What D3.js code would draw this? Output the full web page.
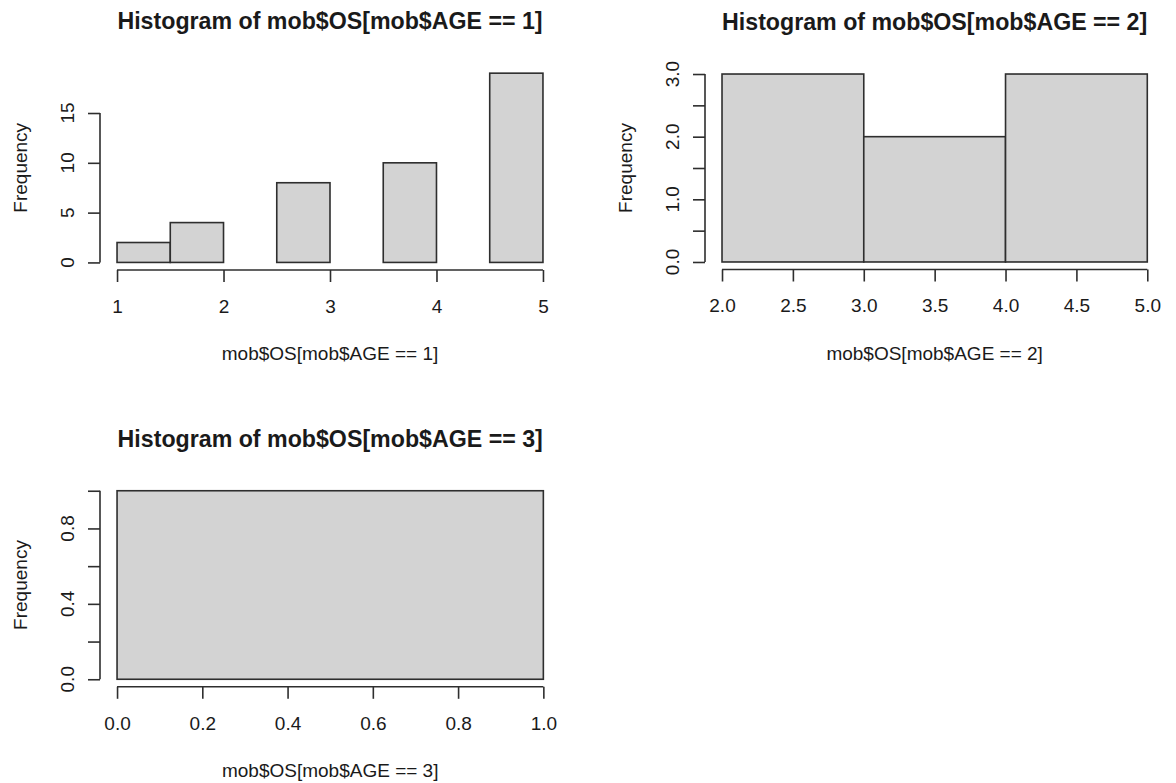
<!DOCTYPE html>
<html>
<head>
<meta charset="utf-8">
<script src="https://cdn.jsdelivr.net/npm/d3@7"></script>
<style>
  html, body { margin: 0; padding: 0; background: #fff; }
  svg { display: block; }
  text { font-family: "Liberation Sans", Arial, sans-serif; fill: #1a1a1a; }
</style>
</head>
<body>
<svg id="chart" width="1176" height="783"></svg>
<script>
// Histogram breaks and counts for each age group
const age1Breaks = [1, 1.5, 2, 2.5, 3, 3.5, 4, 4.5, 5];
const age1Counts = [2, 4, 0, 8, 0, 10, 0, 19];
const age2Breaks = [2, 3, 4, 5];
const age2Counts = [3, 2, 3];
const age3Breaks = [0, 1];
const age3Counts = [1];

// Axis ticks and which of them carry labels
const age1XTicks = [1, 2, 3, 4, 5];
const age1YTicks = [0, 5, 10, 15];
const age1YLabels = ["0", "5", "10", "15"];
const age2XTicks = [2, 2.5, 3, 3.5, 4, 4.5, 5];
const age2YTicks = [0, 0.5, 1, 1.5, 2, 2.5, 3];
const age2YLabels = ["0.0", "", "1.0", "", "2.0", "", "3.0"];
const age3XTicks = [0, 0.2, 0.4, 0.6, 0.8, 1];
const age3YTicks = [0, 0.2, 0.4, 0.6, 0.8, 1];
const age3YLabels = ["0.0", "", "0.4", "", "0.8", ""];

const titles = [
  "Histogram of mob$OS[mob$AGE == 1]",
  "Histogram of mob$OS[mob$AGE == 2]",
  "Histogram of mob$OS[mob$AGE == 3]"
];
const xLabels = ["mob$OS[mob$AGE == 1]", "mob$OS[mob$AGE == 2]", "mob$OS[mob$AGE == 3]"];
const yLabel = "Frequency";

const svg = d3.select("#chart");
const LINE = "#2e2e2e";
const FILL = "#d3d3d3";

// Plot regions (pixel boxes) for the three panels
const panels = [
  { box: { l: 100, r: 560, t: 65.6, b: 270 }, breaks: age1Breaks, counts: age1Counts,
    xTicks: age1XTicks, xFmt: d3.format("d"), yTicks: age1YTicks, yLabels: age1YLabels },
  { box: { l: 705, r: 1164.3, t: 66.5, b: 269.5 }, breaks: age2Breaks, counts: age2Counts,
    xTicks: age2XTicks, xFmt: d3.format(".1f"), yTicks: age2YTicks, yLabels: age2YLabels },
  { box: { l: 100, r: 560.4, t: 483.2, b: 686.8 }, breaks: age3Breaks, counts: age3Counts,
    xTicks: age3XTicks, xFmt: d3.format(".1f"), yTicks: age3YTicks, yLabels: age3YLabels }
];

// Extend a range by 4% on each side, as base R plotting does
function padded(lo, hi) {
  const d = (hi - lo) * 0.04;
  return [lo - d, hi + d];
}

panels.forEach((p, i) => {
  const { l, r, t, b } = p.box;
  const xMin = p.breaks[0], xMax = p.breaks[p.breaks.length - 1];
  const x = d3.scaleLinear().domain(padded(xMin, xMax)).range([l, r]);
  const y = d3.scaleLinear().domain(padded(0, d3.max(p.counts))).range([b, t]);
  const g = svg.append("g");

  // bars (zero-count bins collapse to a line on the baseline)
  const bins = p.counts.map((c, k) => ({ x0: p.breaks[k], x1: p.breaks[k + 1], n: c }));
  g.selectAll("rect.bar").data(bins).join("rect")
    .attr("class", "bar")
    .attr("x", d => x(d.x0))
    .attr("width", d => x(d.x1) - x(d.x0))
    .attr("y", d => y(d.n))
    .attr("height", d => y(0) - y(d.n))
    .attr("fill", FILL)
    .attr("stroke", LINE)
    .attr("stroke-width", 1.6);

  // x axis
  const xa = g.append("g").attr("transform", `translate(0,${b})`)
    .call(d3.axisBottom(x).tickValues(p.xTicks).tickFormat(p.xFmt)
      .tickSize(12).tickSizeOuter(0).tickPadding(17.5));
  xa.select(".domain").remove();
  xa.append("line")
    .attr("x1", x(p.xTicks[0])).attr("x2", x(p.xTicks[p.xTicks.length - 1]))
    .attr("stroke", LINE).attr("stroke-width", 1.6);
  xa.selectAll(".tick line").attr("stroke", LINE).attr("stroke-width", 1.6);
  xa.selectAll(".tick text").style("font-size", "19px").attr("fill", "#1a1a1a")
    .style("font-family", "'Liberation Sans', Arial, sans-serif");

  // y axis
  const ya = g.append("g").attr("transform", `translate(${l},0)`)
    .call(d3.axisLeft(y).tickValues(p.yTicks).tickFormat("").tickSize(12).tickSizeOuter(0));
  ya.select(".domain").remove();
  ya.append("line")
    .attr("y1", y(p.yTicks[0])).attr("y2", y(p.yTicks[p.yTicks.length - 1]))
    .attr("stroke", LINE).attr("stroke-width", 1.6);
  ya.selectAll(".tick line").attr("stroke", LINE).attr("stroke-width", 1.6);
  g.selectAll("text.ylab").data(p.yTicks.map((v, k) => ({ v, s: p.yLabels[k] })).filter(d => d.s))
    .join("text").attr("class", "ylab")
    .attr("transform", d => `translate(${l - 26},${y(d.v)}) rotate(-90)`)
    .attr("text-anchor", "middle")
    .style("font-size", "19px")
    .text(d => d.s);

  // titles and axis labels
  const cx = (l + r) / 2;
  g.append("text").attr("x", cx).attr("y", t - 36.5)
    .attr("text-anchor", "middle").style("font-size", "23.2px").style("font-weight", "bold")
    .attr("fill", "#000").text(titles[i]);
  g.append("text").attr("x", cx).attr("y", b + 90)
    .attr("text-anchor", "middle").style("font-size", "19px").text(xLabels[i]);
  g.append("text")
    .attr("transform", `translate(${l - 73},${(t + b) / 2}) rotate(-90)`)
    .attr("text-anchor", "middle").style("font-size", "19px").text(yLabel);
});
</script>
</body>
</html>
